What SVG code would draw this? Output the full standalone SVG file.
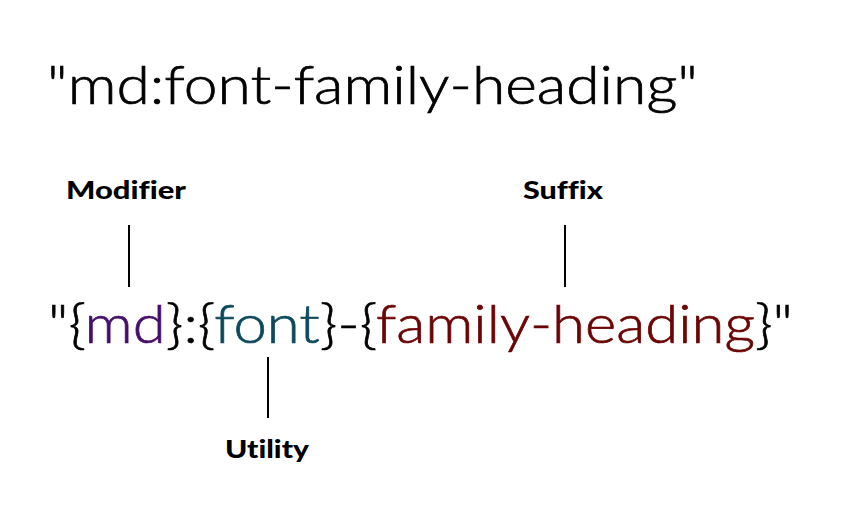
<svg xmlns="http://www.w3.org/2000/svg" width="841" height="528" viewBox="0 0 841 528">
<style>
.big{font-family:Lato,"Noto Sans","DejaVu Sans",sans-serif;font-size:53px;font-weight:300;fill:#000;stroke:#000;stroke-width:0.7;font-variant-ligatures:none}
.lbl{font-family:Lato,"Noto Sans","DejaVu Sans",sans-serif;font-size:25px;font-weight:900;fill:#000;font-variant-ligatures:none}
.mod{fill:#46106a;stroke:#46106a}
.util{fill:#0e4a5c;stroke:#0e4a5c}
.suf{fill:#6b0505;stroke:#6b0505}
.conn line{stroke:#000;stroke-width:2}
</style>
<rect width="841" height="528" fill="#fff"/>
<g id="title">
<text class="big" x="47" y="104" textLength="651" lengthAdjust="spacingAndGlyphs">"md:font-family-heading"</text>
</g>
<g id="pattern">
<text class="big" x="48" y="343" textLength="745" lengthAdjust="spacingAndGlyphs">"{<tspan class="mod">md</tspan>}:{<tspan class="util">font</tspan>}-{<tspan class="suf">family-heading</tspan>}"</text>
</g>
<g id="modifier">
<text class="lbl" x="66" y="199" textLength="120" lengthAdjust="spacingAndGlyphs">Modifier</text>
</g>
<g id="suffix">
<text class="lbl" x="523" y="199" textLength="80" lengthAdjust="spacingAndGlyphs">Suffix</text>
</g>
<g id="utility">
<text class="lbl" x="225" y="458" textLength="84" lengthAdjust="spacingAndGlyphs">Utility</text>
</g>
<g id="connectors" class="conn">
<line x1="129" y1="225" x2="129" y2="287"/>
<line x1="565" y1="225" x2="565" y2="287"/>
<line x1="268" y1="357" x2="268" y2="418"/>
</g>
</svg>
